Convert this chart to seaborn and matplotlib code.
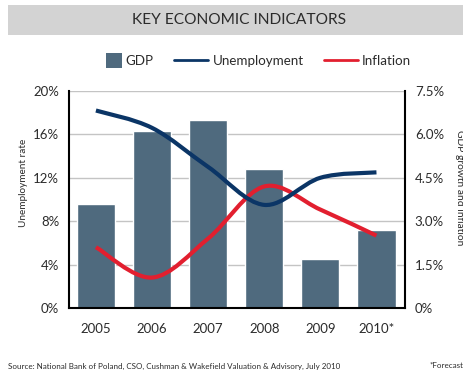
import numpy as np
import pandas as pd
import matplotlib
matplotlib.use("Agg")
import matplotlib.pyplot as plt
from matplotlib.path import Path
from matplotlib.patches import PathPatch, Rectangle, Patch
from matplotlib.lines import Line2D
from matplotlib.legend_handler import HandlerPatch
import seaborn as sns

# ---- data ----
years = ["2005", "2006", "2007", "2008", "2009", "2010*"]
gdp = [3.6, 6.1, 6.5, 4.8, 1.7, 2.7]              # right axis, %
unemployment = [18.2, 16.6, 13.0, 9.5, 12.0, 12.5]  # left axis, %
inflation = [2.1, 1.05, 2.4, 4.2, 3.4, 2.5]        # right axis, %
left_ticks = [0, 4, 8, 12, 16, 20]
right_ticks = [0, 1.5, 3.0, 4.5, 6.0, 7.5]
left_labels = ["0%", "4%", "8%", "12%", "16%", "20%"]
right_labels = ["0%", "1.5%", "3.0%", "4.5%", "6.0%", "7.5%"]

df = pd.DataFrame({"year": years, "gdp": gdp})

sns.set_theme(style="white")
plt.rcParams["font.family"] = ["Lato", "DejaVu Sans"]

BAR = "#4f6a7e"
NAVY = "#0b3566"
RED = "#e21f2f"
TXT = "#2b2b2b"


def smooth_path(xs, ys):
    pts = np.column_stack([xs, ys]).astype(float)
    n = len(pts)
    verts = [pts[0]]
    codes = [Path.MOVETO]
    for i in range(n - 1):
        p0 = pts[i - 1] if i > 0 else pts[i]
        p1 = pts[i]
        p2 = pts[i + 1]
        p3 = pts[i + 2] if i + 2 < n else pts[i + 1]
        c1 = p1 + (p2 - p0) / 6.0
        c2 = p2 - (p3 - p1) / 6.0
        verts += [c1, c2, p2]
        codes += [Path.CURVE4] * 3
    return Path(verts, codes)


def square_patch(legend, orig_handle, xdescent, ydescent, width, height, fontsize):
    side = 1.15 * fontsize
    return Rectangle((width - side - xdescent, height / 2 - side / 2 - ydescent),
                     side, side)


fig = plt.figure(figsize=(4.64, 3.76), dpi=100)
ax1 = fig.add_axes([0.1487, 0.181, 0.7243, 0.577])
ax2 = ax1.twinx()

sns.barplot(data=df, x="year", y="gdp", ax=ax2, color=BAR, saturation=1,
            width=0.68, zorder=2)
ax2.set_ylim(0, 7.5)
ax2.set_yticks(right_ticks, labels=right_labels)
ax2.yaxis.grid(True, color="#c4c4c4", lw=1)
ax2.xaxis.grid(False)
ax2.set_axisbelow(True)
ax2.set_ylabel("GDP growth and Inflation", rotation=270, fontsize=7.4,
               color=TXT, va="center")
ax2.yaxis.set_label_coords(1.162, 0.553)

x = np.arange(len(years))
ax2.add_patch(PathPatch(smooth_path(x, inflation), facecolor="none",
                        edgecolor=RED, lw=3, zorder=4, capstyle="butt"))

ax1.set_zorder(ax2.get_zorder() + 1)
ax1.patch.set_visible(False)
ax1.add_patch(PathPatch(smooth_path(x, unemployment), facecolor="none",
                        edgecolor=NAVY, lw=3, zorder=4, capstyle="butt"))
ax1.set_ylim(0, 20)
ax1.set_yticks(left_ticks, labels=left_labels)
ax1.set_xticks(x, labels=years)
ax1.set_xlim(-0.48, 5.51)
ax2.set_xlim(-0.48, 5.51)
ax1.set_ylabel("Unemployment rate", fontsize=7.2, color=TXT, va="center")
ax1.yaxis.set_label_coords(-0.135, 0.576)
ax2.set_xlabel("")
ax1.set_xlabel("")

for a in (ax1, ax2):
    a.tick_params(length=0, labelsize=9.5, labelcolor=TXT)
ax1.tick_params(axis="y", pad=7)
ax2.tick_params(axis="y", pad=7)
ax1.tick_params(axis="x", pad=11)

for s in ("top", "right"):
    ax1.spines[s].set_visible(False)
for s in ("top", "left", "bottom"):
    ax2.spines[s].set_visible(False)
for sp in (ax1.spines["left"], ax1.spines["bottom"], ax2.spines["right"]):
    sp.set_color("black")
    sp.set_linewidth(1.5)

# title band
fig.patches.append(Rectangle((8 / 464, 1 - 35 / 376), 1.0, 30 / 376,
                             transform=fig.transFigure, facecolor="#d3d3d3",
                             edgecolor="none", zorder=0))
fig.text(0.515, 1 - 20 / 376, "KEY ECONOMIC INDICATORS", ha="center",
         va="center", fontsize=11.2, color=TXT)

handles = [
    Patch(facecolor=BAR, edgecolor="none"),
    Line2D([], [], color=NAVY, lw=2),
    Line2D([], [], color=RED, lw=2),
]
fig.legend(handles, ["GDP", "Unemployment", "Inflation"], loc="center",
           bbox_to_anchor=(0.537, 1 - 61 / 376), ncol=3, frameon=False,
           fontsize=9.6, handlelength=2.6, handletextpad=0.3,
           columnspacing=1.5, labelcolor=TXT,
           handler_map={Patch: HandlerPatch(patch_func=square_patch)})

fig.text(8 / 464, 1 - 366 / 376,
         "Source: National Bank of Poland, CSO, Cushman & Wakefield Valuation & Advisory, July 2010",
         ha="left", va="center", fontsize=5.8, color=TXT)
fig.text(0.998, 1 - 366 / 376, "*Forecast", ha="right", va="center",
         fontsize=5.8, color=TXT)

fig.savefig("out.png", dpi=100, facecolor="white")
